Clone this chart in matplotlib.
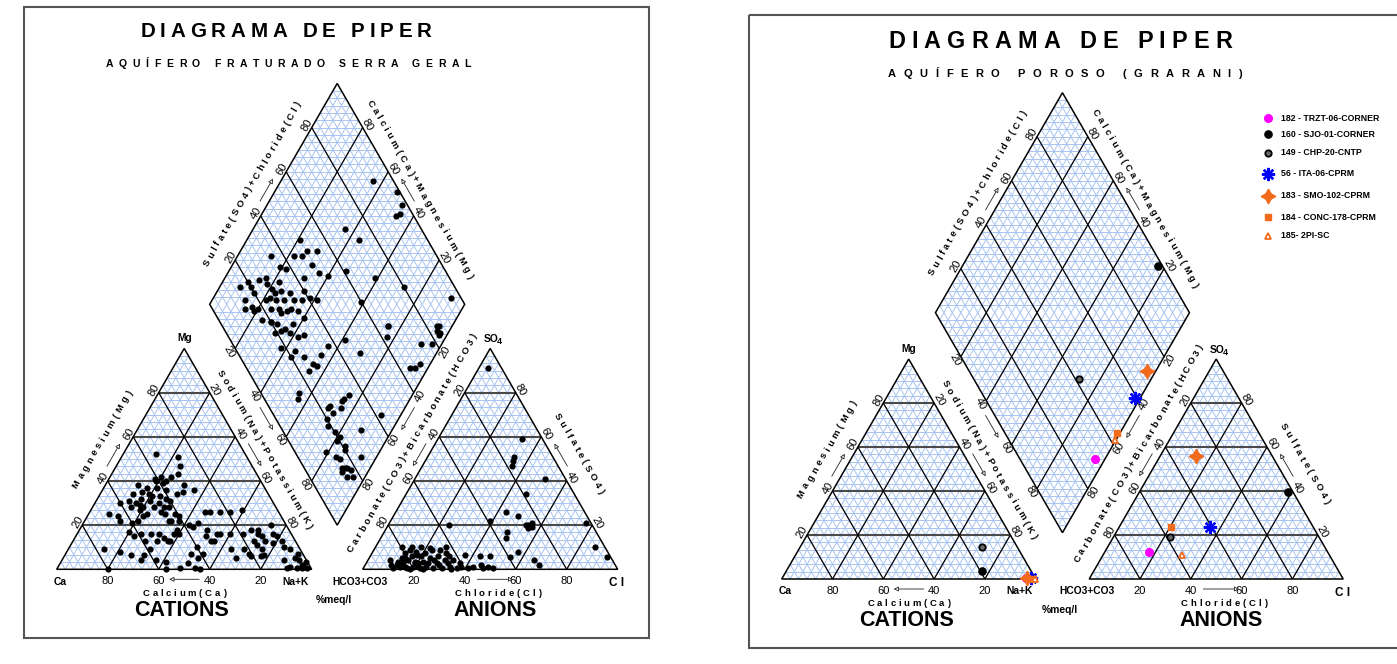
import matplotlib.pyplot as plt
import numpy as np
from matplotlib.collections import LineCollection
from matplotlib.patches import Polygon, Rectangle
from matplotlib.textpath import TextToPath
from matplotlib.font_manager import FontProperties

plt.rcParams['font.family'] = ['Liberation Sans', 'DejaVu Sans']

DPI = 100
SQ = np.sqrt(3) / 2
BLUE = '#a8c4f2'
ORANGE = '#f26a1b'

# ---------------- data: Aquifero fraturado Serra Geral (% meq/l) ----------------
# cation triangle: Mg and Na+K (Ca = rest)
sg_cat_mg = [52, 51, 47, 42, 40, 40, 42, 43, 38, 36, 38, 37, 35, 34, 34, 32, 31, 30, 30, 28,
             27, 28, 37, 33, 32, 31, 28, 28, 34, 35, 31, 28, 25, 22, 24, 25, 24, 22, 21, 26,
             25, 25, 24, 22, 22, 22, 26, 26, 26, 26, 27, 20, 19, 21, 15, 13, 16, 16, 18, 13,
             16, 16, 18, 18, 16, 16, 13, 13, 14, 16, 13, 16, 16, 15, 17, 13, 10, 7, 5, 7,
             9, 9, 13, 18, 16, 15, 13, 20, 16, 15, 12, 13, 10, 9, 7, 5, 4, 2, 1, 0.5,
             0.5, 0.5, 3.5, 1, 0.5, 4, 6.5, 9, 11, 7, 6, 6, 9, 8, 6.5, 3.5, 0, 0.5, 0.5, 0,
             0, 9, 6.5, 4, 4, 3, 5, 41, 39, 36, 33, 30, 29]
sg_cat_nak = [13, 22, 25, 20, 19, 23, 24, 26, 31, 36, 13, 17, 16, 13, 19, 17, 13, 16, 10, 15,
              19, 20, 21, 24, 27, 29, 28, 30, 30, 32, 21, 24, 23, 21, 22, 8, 12, 14, 19, 28,
              30, 34, 36, 33, 34, 37, 45, 47, 51, 55, 59, 42, 44, 45, 51, 54, 55, 56, 50, 55,
              60, 65, 67, 38, 40, 38, 38, 37, 35, 32, 33, 29, 25, 23, 20, 28, 50, 49, 53, 54,
              64, 69, 71, 70, 71, 73, 75, 74, 77, 79, 79, 82, 84, 87, 91, 91, 93, 95, 96, 98,
              96, 94, 96, 91, 90, 87, 78, 76, 73, 72, 73, 77, 14, 21, 26, 41, 43, 48, 54, 56,
              20, 32, 31, 31, 37, 50, 68, 18, 22, 25, 21, 25, 18]

# anion triangle: SO4 and Cl (HCO3+CO3 = rest)
sg_an_so4 = [91, 59, 51, 49, 47, 41, 34, 26, 24, 21, 20, 19, 22, 20, 17, 14, 8, 4, 2, 21,
             10, 5.5, 6.5, 5.5, 20, 18.6,
             4.2, 0.5, 2, 5, 2.7, 7.3, 0.5, 4.2, 8.8, 5.8, 1.2, 3.5, 6.5, 0.5, 10.3, 3.5,
             7.3, 1.2, 5, 8.8, 0.5, 2.7, 5.8, 8.8, 0.5, 4.2, 7.3, 10.3, 1.2, 4.2, 0.5, 2.7,
             0.5, 1.2, 5.8, 2, 0.5, 1.2, 5.8, 0.5, 10.3, 10.3, 9.5, 3.5, 1.2, 2.7, 3, 0, 0, 0,
             2, 1, 3, 1.5, 4, 2, 6, 5, 8, 3, 1, 6]
sg_an_cl = [3.5, 33, 34, 34.5, 35, 51, 47, 43, 49, 56, 55, 57, 39, 24, 48, 49, 57, 65, 68, 77,
            86, 93, 37, 55, 54, 55.5,
            8.6, 11.8, 12.3, 12.8, 14.6, 12.9, 17, 15.8, 14.1, 16.3, 19.2, 18.7, 17.9, 22.2,
            17.9, 22, 20.7, 24.4, 23.8, 22.6, 27.4, 27.6, 26.7, 25.8, 30.7, 30.1, 29.2, 27.7,
            33.6, 33.4, 36.6, 36.7, 41.1, 42.7, 43, 45.5, 47, 48.6, 46.9, 50.9, 10.1, 14, 21.6,
            12.2, 14, 20.4, 24.2, 18.5, 23.7, 34.8, 10, 16, 19, 21, 26, 29, 20, 14, 17, 32, 38, 31]

# diamond: SO4+Cl and Na+K
sg_dia_so4cl = [92, 99, 98, 95, 93, 70, 73, 50, 54, 50, 47, 44, 36, 38, 35, 49, 50, 53, 61, 71,
                80, 96, 60, 65, 85, 83,
                16, 20, 20, 20, 15, 16, 18, 13, 25, 28, 27, 28, 28, 32, 31, 25, 27, 23, 23, 26,
                26, 16, 30, 34, 34, 37, 31, 33, 29, 43, 40, 41, 43, 34, 28, 22, 20, 19, 17, 30,
                20, 22, 24, 25, 27, 18, 23, 25, 27, 28, 20, 24, 37, 32, 15, 13, 23, 24, 24, 31,
                20, 19, 20, 21, 19, 21, 16, 16, 14, 15, 12, 15, 30, 34,
                65, 62, 84, 84, 74, 78, 83, 69, 64, 66, 48, 42, 31, 25, 20, 15, 17, 18, 17, 45, 28]
sg_dia_nak = [36, 48, 53, 54, 53, 36, 44, 21, 30, 26, 25, 22, 19, 22, 13, 31, 36, 40, 46, 59,
              72, 93, 59, 75, 95, 95,
              8, 10, 12, 15, 13, 17, 20, 15, 14, 16, 18, 21, 23, 22, 25, 22, 25, 21, 25, 28,
              30, 19, 28, 29, 32, 35, 33, 36, 32, 31, 34, 38, 41, 40, 37, 34, 28, 32, 24, 44,
              28, 31, 35, 38, 42, 38, 44, 49, 54, 56, 44, 54, 56, 55, 55, 56, 70, 70, 73, 74,
              72, 74, 78, 81, 81, 85, 86, 90, 90, 93, 79, 84, 74, 75,
              75, 77, 94, 97, 92, 96, 97, 96, 93, 95, 70, 92, 88, 94, 86, 89, 91, 93, 95, 61, 75]

# ---------------- data: Aquifero poroso (Guarani) samples ----------------
gr_labels = ['182 - TRZT-06-CORNER', '160 - SJO-01-CORNER', '149 - CHP-20-CNTP',
             '56 - ITA-06-CPRM', '183 - SMO-102-CPRM', '184 - CONC-178-CPRM', '185- 2PI-SC']
gr_mg = [0.5, 3.8, 14.4, 0.3, 0.5, 0.2, 0.2]
gr_nak = [96.0, 76.8, 71.5, 98.0, 96.5, 99.0, 99.6]
gr_so4 = [12.1, 39.4, 19.0, 23.5, 55.9, 23.8, 10.9]
gr_cl = [17.6, 58.7, 22.3, 35.8, 14.0, 20.3, 30.9]

gr_styles = [
    [dict(marker='o', ms=5.5, mfc='#ff00ff', mec='#ff00ff')],
    [dict(marker='o', ms=5.2, mfc='black', mec='black')],
    [dict(marker='o', ms=4.6, mfc='#6a6a6a', mec='black', mew=1.3)],
    [dict(marker=(8, 2, 0), ms=9.5, mec='#0000ff', mew=1.7)],
    [dict(marker=(4, 1, 0), ms=10.5, mfc=ORANGE, mec=ORANGE),
     dict(marker='o', ms=5, mfc=ORANGE, mec=ORANGE)],
    [dict(marker='s', ms=5, mfc=ORANGE, mec=ORANGE)],
    [dict(marker='^', ms=4.8, mfc='white', mec=ORANGE, mew=1.3)],
]

t2p = TextToPath()


def tracked(ax, x, y, txt, length, size, ang=0, weight='bold', color='black'):
    # letter spaced text, centred on (x, y), spread over `length` pixels
    prop = FontProperties(family='Liberation Sans', size=size, weight=weight)
    em = size * DPI / 72
    ws = []
    for ch in txt:
        if ch == ' ':
            ws.append(0.28 * em)
        else:
            w = t2p.get_text_width_height_descent(ch, prop, ismath=False)[0]
            ws.append(w * DPI / 72)
    n = len(txt)
    gap = (length - sum(ws)) / max(n - 1, 1)
    th = np.radians(ang)
    u = np.array([np.cos(th), -np.sin(th)])
    up = np.array([-np.sin(th), -np.cos(th)])
    start = np.array([x, y]) - u * length / 2 - up * 0.35 * em
    pos = 0.0
    for ch, w in zip(txt, ws):
        if ch != ' ':
            p = start + u * (pos + w / 2)
            ax.text(p[0], p[1], ch, rotation=ang, rotation_mode='anchor', ha='center',
                    va='baseline', fontsize=size, fontweight=weight, color=color)
        pos += w + gap


def geometry(x0, base, s, gap):
    h = s * SQ
    cat = [np.array([x0, base]), np.array([x0 + s, base]), np.array([x0 + s / 2, base - h])]
    a0 = x0 + s + gap
    an = [np.array([a0, base]), np.array([a0 + s, base]), np.array([a0 + s / 2, base - h])]
    B = np.array([x0 + s + gap / 2, base - gap * SQ])
    L = B + [-s / 2, -h]
    R = B + [s / 2, -h]
    T = B + [0, -2 * h]
    return dict(cat=cat, an=an, dia=(L, T, R, B), base=base)


def tri_xy(tri, right, top):
    A, C, D = tri
    r = np.asarray(right, float)[:, None] / 100
    t = np.asarray(top, float)[:, None] / 100
    return A + r * (C - A) + t * (D - A)


def dia_xy(dia, p, q):
    L, T, R, B = dia
    p = np.asarray(p, float)[:, None] / 100
    q = np.asarray(q, float)[:, None] / 100
    return L + p * (T - L) + q * (B - L)


def tri_lines(A, C, D, n):
    horiz, slant = [], []
    for k in range(1, n):
        f = k / n
        horiz.append([A + f * (D - A), C + f * (D - C)])
        P = A + f * (C - A)
        slant.append([P, P + (1 - f) * (D - A)])
        slant.append([A + (1 - f) * (C - A), A + (1 - f) * (D - A)])
    return horiz, slant


def draw_frame(ax, g):
    L, T, R, B = g['dia']
    tris = [g['cat'], g['an'], [L, R, T], [L, R, B]]
    for tri in tris:
        h, sl = tri_lines(*tri, 30)
        ax.add_collection(LineCollection(h + sl, colors=BLUE, lw=0.7, zorder=1))
    for tri in (g['cat'], g['an']):
        h, sl = tri_lines(*tri, 5)
        ax.add_collection(LineCollection(h, colors='#4a4a4a', lw=1.5, zorder=2))
        ax.add_collection(LineCollection(sl, colors='black', lw=0.9, zorder=2))
        ax.add_patch(Polygon(tri, closed=True, fill=False, ec='black', lw=1.1, zorder=3))
    segs = []
    for k in range(1, 5):
        f = k / 5
        P = L + f * (T - L)
        segs.append([P, P + (B - L)])
        P = L + f * (B - L)
        segs.append([P, P + (T - L)])
    ax.add_collection(LineCollection(segs, colors='black', lw=0.9, zorder=2))
    ax.add_patch(Polygon([L, T, R, B], closed=True, fill=False, ec='black', lw=1.1, zorder=3))


def arrow(ax, c, d, length=26):
    d = d / np.linalg.norm(d)
    ax.annotate('', xy=c + d * length / 2, xytext=c - d * length / 2,
                arrowprops=dict(arrowstyle='-|>', mutation_scale=7, lw=0.6,
                                ec='#222222', fc='white', shrinkA=0, shrinkB=0))


def num(ax, p, s, ang):
    ax.text(p[0], p[1], s, rotation=ang, rotation_mode='anchor', ha='center', va='center',
            fontsize=8)


def draw_labels(ax, g):
    ca, nk, mg = g['cat']
    hc, cl, so = g['an']
    L, T, R, B = g['dia']
    base = g['base']
    nl = np.array([-SQ, -0.5])
    nr = np.array([SQ, -0.5])
    nll = np.array([-SQ, 0.5])
    nlr = np.array([SQ, 0.5])
    down = np.array([0, 1])
    for v in (20, 40, 60, 80):
        f = v / 100
        num(ax, ca + f * (mg - ca) + 5.5 * nl, str(v), 60)
        num(ax, mg + f * (nk - mg) + 5.5 * nr, str(v), -60)
        num(ax, ca + f * (nk - ca) + 12 * down, str(100 - v), 0)
        num(ax, hc + f * (so - hc) + 5.5 * nl, str(100 - v), 60)
        num(ax, so + f * (cl - so) + 5.5 * nr, str(100 - v), -60)
        num(ax, hc + f * (cl - hc) + 12 * down, str(v), 0)
        num(ax, L + f * (T - L) + 5.5 * nl, str(v), 60)
        num(ax, T + f * (R - T) + 5.5 * nr, str(100 - v), -60)
        num(ax, L + f * (B - L) + 7 * nll, str(v), -60)
        num(ax, B + f * (R - B) + 7 * nlr, str(100 - v), 60)

    # arrows
    arrow(ax, ca + 0.5 * (mg - ca) + 8 * nl, mg - ca)
    arrow(ax, mg + 0.5 * (nk - mg) + 8 * nr, nk - mg)
    arrow(ax, ca + 0.5 * (nk - ca) + 10 * down, ca - nk, 30)
    arrow(ax, hc + 0.5 * (so - hc) + 8 * nl, hc - so)
    arrow(ax, so + 0.5 * (cl - so) + 8 * nr, so - cl)
    arrow(ax, hc + 0.52 * (cl - hc) + 10 * down, cl - hc, 36)
    arrow(ax, L + 0.5 * (T - L) + 8 * nl, T - L)
    arrow(ax, T + 0.5 * (R - T) + 8 * nr, T - R)
    arrow(ax, L + 0.5 * (B - L) + 8 * nll, B - L)
    arrow(ax, B + 0.5 * (R - B) + 8 * nlr, B - R)

    # axis names
    fs = 6.8
    p = ca + 0.53 * (mg - ca) + 26 * nl
    tracked(ax, p[0], p[1], 'Magnesium(Mg)', 111, fs, 60)
    p = mg + 0.5 * (nk - mg) + 20 * nr
    tracked(ax, p[0], p[1], 'Sodium(Na)+Potassium(K)', 181, fs, -60)
    p = ca + 0.5 * (nk - ca) + 23.4 * down
    tracked(ax, p[0], p[1], 'Calcium(Ca)', 83, fs)
    p = hc + 0.524 * (so - hc) + 20.6 * nl
    tracked(ax, p[0], p[1], 'Carbonate(CO3)+Bicarbonate(HCO3)', 250, fs, 60)
    p = so + 0.53 * (cl - so) + 25.4 * nr
    tracked(ax, p[0], p[1], 'Sulfate(SO4)', 91, fs, -60)
    p = hc + 0.53 * (cl - hc) + 23.4 * down
    tracked(ax, p[0], p[1], 'Chloride(Cl)', 87, fs)
    p = L + 0.49 * (T - L) + 24 * nl
    tracked(ax, p[0], p[1], 'Sulfate(SO4)+Chloride(Cl)', 187, fs, 60)
    p = T + 0.52 * (R - T) + 19.5 * nr
    tracked(ax, p[0], p[1], 'Calcium(Ca)+Magnesium(Mg)', 204, fs, -60)

    # vertices and titles
    vk = dict(ha='center', va='center', fontsize=7.4, fontweight='bold')
    ax.text(mg[0], mg[1] - 10, 'Mg', **vk)
    ax.text(so[0] + 1, so[1] - 9, 'SO', **vk)
    ax.text(so[0] + 9.5, so[1] - 6.5, '4', ha='center', va='center', fontsize=6.5, fontweight='bold')
    ax.text(ca[0] + 3.5, base + 12.5, 'Ca', **vk)
    ax.text(nk[0] - 16.5, base + 12.5, 'Na+K', **vk)
    ax.text(hc[0] - 2.5, base + 12.5, 'HCO3+CO3', **vk)
    ax.text(cl[0] - 1, base + 14, 'C l', ha='center', va='center', fontsize=8.5, fontweight='bold')
    ax.text(B[0] - 3, base + 31, '%meq/l', **vk)
    ax.text(ca[0] + 125, base + 41, 'CATIONS', ha='center', va='center', fontsize=15.5,
            fontweight='bold')
    ax.text(hc[0] + 132, base + 41, 'ANIONS', ha='center', va='center', fontsize=15.5,
            fontweight='bold')


fig = plt.figure(figsize=(13.97, 6.64), dpi=DPI)
ax = fig.add_axes([0, 0, 1, 1])
ax.set_xlim(0, 1397)
ax.set_ylim(664, 0)
ax.axis('off')

ax.add_patch(Rectangle((23.5, 6.5), 625.5, 631.5, fill=False, ec='#555555', lw=1.5))
ax.add_patch(Rectangle((749, 14.5), 660, 633, fill=False, ec='#555555', lw=1.5))

# ---- left: Serra Geral ----
g1 = geometry(56.7, 569.3, 255, 51)
draw_frame(ax, g1)
draw_labels(ax, g1)
tracked(ax, 286, 30, 'DIAGRAMA DE PIPER', 291, 14.8)
tracked(ax, 288.4, 63.3, 'AQUÍFERO FRATURADO SERRA GERAL', 365, 7.5)

dot = dict(s=20, c='black', lw=0, zorder=5)
xy = tri_xy(g1['cat'], sg_cat_nak, sg_cat_mg)
ax.scatter(xy[:, 0], xy[:, 1], **dot)
xy = tri_xy(g1['an'], sg_an_cl, sg_an_so4)
ax.scatter(xy[:, 0], xy[:, 1], **dot)
xy = dia_xy(g1['dia'], sg_dia_so4cl, sg_dia_nak)
ax.scatter(xy[:, 0], xy[:, 1], **dot)

# ---- right: Guarani ----
g2 = geometry(781.7, 579, 254, 53.5)
draw_frame(ax, g2)
draw_labels(ax, g2)
tracked(ax, 1060, 40, 'DIAGRAMA DE PIPER', 344, 16.8)
tracked(ax, 1065, 73, 'AQUÍFERO POROSO (GRARANI)', 354, 8)

gr_p = np.array(gr_so4) + np.array(gr_cl)
cxy = tri_xy(g2['cat'], gr_nak, gr_mg)
axy = tri_xy(g2['an'], gr_cl, gr_so4)
dxy = dia_xy(g2['dia'], gr_p, gr_nak)
leg_y = [118.3, 134.3, 152.7, 174, 196, 217.3, 236]
for i, lab in enumerate(gr_labels):
    for st in gr_styles[i]:
        kw = dict(st, ls='none', zorder=6)
        ax.plot([cxy[i, 0], axy[i, 0], dxy[i, 0]], [cxy[i, 1], axy[i, 1], dxy[i, 1]], **kw)
        ax.plot([1267.7], [leg_y[i]], **kw)
    ax.text(1280.7, leg_y[i], lab, ha='left', va='center', fontsize=6.3, fontweight='bold')

fig.savefig('out.png', dpi=DPI)
